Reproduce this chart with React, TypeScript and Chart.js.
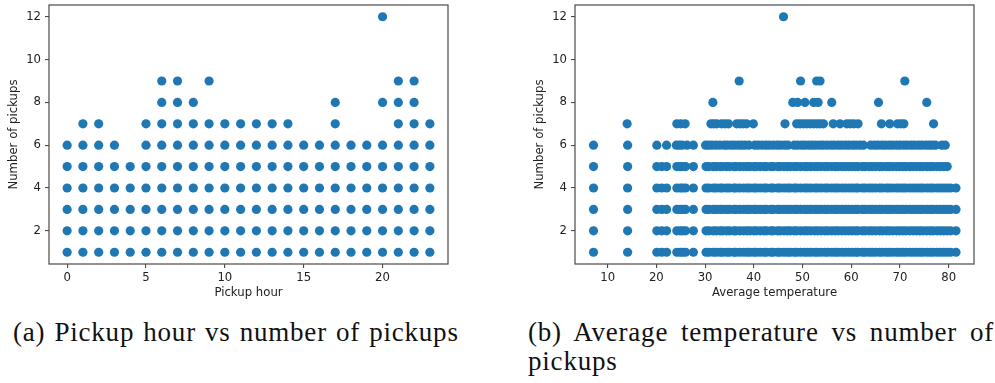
import React, { useEffect, useRef } from 'react';
import { Chart, registerables } from 'chart.js';

Chart.register(...registerables);

// ---- Pickup hour vs number of pickups ----
const hours = [0, 1, 2, 3, 4, 5, 6, 7, 8, 9, 10, 11, 12, 13, 14, 15, 16, 17, 18, 19, 20, 21, 22, 23];
const pickupsByHour: number[][] = [
  [1, 2, 3, 4, 5, 6],
  [1, 2, 3, 4, 5, 6, 7],
  [1, 2, 3, 4, 5, 6, 7],
  [1, 2, 3, 4, 5, 6],
  [1, 2, 3, 4, 5],
  [1, 2, 3, 4, 5, 6, 7],
  [1, 2, 3, 4, 5, 6, 7, 8, 9],
  [1, 2, 3, 4, 5, 6, 7, 8, 9],
  [1, 2, 3, 4, 5, 6, 7, 8],
  [1, 2, 3, 4, 5, 6, 7, 9],
  [1, 2, 3, 4, 5, 6, 7],
  [1, 2, 3, 4, 5, 6, 7],
  [1, 2, 3, 4, 5, 6, 7],
  [1, 2, 3, 4, 5, 6, 7],
  [1, 2, 3, 4, 5, 6, 7],
  [1, 2, 3, 4, 5, 6],
  [1, 2, 3, 4, 5, 6],
  [1, 2, 3, 4, 5, 6, 7, 8],
  [1, 2, 3, 4, 5, 6],
  [1, 2, 3, 4, 5, 6],
  [1, 2, 3, 4, 5, 6, 8, 12],
  [1, 2, 3, 4, 5, 6, 7, 8, 9],
  [1, 2, 3, 4, 5, 6, 7, 8, 9],
  [1, 2, 3, 4, 5, 6, 7],
];
const hourTicks = [0, 5, 10, 15, 20];

// ---- Average temperature vs number of pickups ----
const coldTemps = [7.1, 14.1, 20.1, 21.1, 22.1, 24.2, 24.9, 25.4, 26.0, 27.6];
const mildTemps = [
  30.2, 30.8, 31.7, 32.3, 33.1, 33.6, 34.4, 35.0, 35.9, 36.3, 37.1, 37.9, 38.6, 39.2, 40.0,
  40.5, 41.3, 42.1, 42.6, 43.5, 44.0, 44.9, 45.4, 46.2, 46.9, 47.5, 48.3, 48.8, 49.6, 50.4,
  51.0, 51.7, 52.5, 53.1, 53.8, 54.6, 55.2, 56.0, 56.7, 57.3, 58.1, 58.8, 59.5, 60.2, 60.9,
  61.4, 62.3, 62.9, 63.7, 64.3, 65.0, 65.8, 66.4, 67.2, 67.8, 68.5, 69.3, 69.9, 70.6, 71.2,
  72.0, 72.7, 73.4, 74.1, 74.7, 75.5, 76.2, 76.8, 77.6, 78.3, 79.0, 79.7,
];
const warmestTemps = [80.4, 81.5];
const tempsAtSix = [
  7.1, 14.1, 20.1, 22.1, 24.1, 24.7, 25.3, 26.3, 27.6,
  30.1, 30.7, 31.4, 32.2, 33.0, 33.9, 34.5, 35.3, 36.0, 36.8, 37.5, 38.2, 39.0, 40.2, 40.9,
  41.7, 42.5, 43.2, 44.0, 44.8, 45.5, 46.3, 47.0, 48.3, 49.0, 49.8, 50.5, 51.3, 52.0, 52.7,
  53.5, 54.2, 55.0, 55.8, 56.5, 57.3, 58.0, 58.8, 59.5, 60.3, 61.0, 61.8, 62.5, 64.0, 64.8,
  65.5, 66.3, 67.0, 67.8, 68.5, 69.3, 70.0, 70.8, 71.5, 72.3, 73.0, 73.8, 74.5, 75.3, 76.0,
  76.6, 77.3, 78.6, 79.3,
];
const tempsAtSeven = [
  14.0, 24.2, 25.0, 25.9, 31.2, 31.8, 32.4, 33.4, 34.1, 34.8, 36.5, 37.2, 37.8, 38.5, 39.9,
  46.4, 48.8, 49.5, 50.2, 50.9, 51.6, 52.3, 53.0, 53.6, 54.3, 56.3, 57.7, 59.1, 59.8, 60.5,
  61.4, 66.2, 67.9, 69.5, 70.2, 70.8, 76.9,
];
const tempsAtEight = [31.6, 48.0, 49.0, 50.5, 52.3, 53.2, 56.0, 65.6, 75.5];
const tempsAtNine = [37.0, 49.6, 52.9, 53.6, 71.0];
const tempsAtTwelve = [46.1];
const pickupLevels = [1, 2, 3, 4, 5, 6, 7, 8, 9, 12];
const tempsByLevel: number[][] = [
  [...coldTemps, ...mildTemps, ...warmestTemps],
  [...coldTemps, ...mildTemps, ...warmestTemps],
  [...coldTemps, ...mildTemps, ...warmestTemps],
  [...coldTemps, ...mildTemps, ...warmestTemps],
  [...coldTemps, ...mildTemps],
  tempsAtSix,
  tempsAtSeven,
  tempsAtEight,
  tempsAtNine,
  tempsAtTwelve,
];
const tempTicks = [10, 20, 30, 40, 50, 60, 70, 80];
const pickupTicks = [2, 4, 6, 8, 10, 12];

const DOT = '#1f77b4';
const INK = '#222222';
const SPINE = '#4a4a4a';
const TICK_FONT = { family: '"DejaVu Sans", sans-serif', size: 11.7 };

const framePlugin = {
  id: 'frame',
  afterDraw(chart: any) {
    const { ctx, chartArea } = chart;
    ctx.save();
    ctx.strokeStyle = SPINE;
    ctx.lineWidth = 1.2;
    ctx.strokeRect(chartArea.left, chartArea.top, chartArea.right - chartArea.left, chartArea.bottom - chartArea.top);
    ctx.restore();
  },
};

interface PanelSpec {
  points: { x: number; y: number }[];
  xMin: number;
  xMax: number;
  xTicks: number[];
  xTitle: string;
  yAxisWidth: number;
  yTitlePad: number;
  rightPad: number;
}

function Panel({ spec, width, height }: { spec: PanelSpec; width: number; height: number }) {
  const ref = useRef<HTMLCanvasElement | null>(null);
  useEffect(() => {
    if (!ref.current) return;
    const chart = new Chart(ref.current, {
      type: 'scatter',
      data: {
        datasets: [
          {
            data: spec.points,
            backgroundColor: DOT,
            borderWidth: 0,
            pointRadius: 4.6,
            pointHoverRadius: 4.6,
          },
        ],
      },
      options: {
        responsive: false,
        animation: false,
        devicePixelRatio: 1,
        events: [],
        layout: { padding: { top: 5, right: spec.rightPad, left: 0, bottom: 0 } },
        plugins: { legend: { display: false }, tooltip: { enabled: false }, title: { display: false } },
        scales: {
          x: {
            type: 'linear',
            min: spec.xMin,
            max: spec.xMax,
            border: { display: false },
            grid: { drawOnChartArea: false, drawTicks: true, tickLength: 4, color: SPINE, lineWidth: 1.1 },
            ticks: { color: INK, font: TICK_FONT, padding: 3, maxRotation: 0, callback: (v: any) => String(v) },
            title: { display: true, text: spec.xTitle, color: INK, font: TICK_FONT, padding: { top: 0, bottom: 5 } },
            afterBuildTicks: (scale: any) => {
              scale.ticks = spec.xTicks.map((value) => ({ value }));
            },
            afterFit: (scale: any) => {
              scale.height = 41;
              scale.paddingLeft = 0;
              scale.paddingRight = 0;
            },
          },
          y: {
            type: 'linear',
            min: 0.45,
            max: 12.55,
            border: { display: false },
            grid: { drawOnChartArea: false, drawTicks: true, tickLength: 4, color: SPINE, lineWidth: 1.1 },
            ticks: { color: INK, font: TICK_FONT, padding: 4, callback: (v: any) => String(v) },
            title: {
              display: true,
              text: 'Number of pickups',
              color: INK,
              font: TICK_FONT,
              padding: { top: spec.yTitlePad, bottom: 0 },
            },
            afterBuildTicks: (scale: any) => {
              scale.ticks = pickupTicks.map((value) => ({ value }));
            },
            afterFit: (scale: any) => {
              scale.width = spec.yAxisWidth;
              scale.paddingTop = 0;
              scale.paddingBottom = 0;
            },
          },
        },
      },
      plugins: [framePlugin],
    });
    return () => chart.destroy();
  }, [spec]);
  return <canvas ref={ref} width={width} height={height} style={{ width, height, display: 'block' }} />;
}

const hourSpec: PanelSpec = {
  points: hours.flatMap((h, i) => pickupsByHour[i].map((n) => ({ x: h, y: n }))),
  xMin: -1.15,
  xMax: 24.15,
  xTicks: hourTicks,
  xTitle: 'Pickup hour',
  yAxisWidth: 49,
  yTitlePad: 7,
  rightPad: 12,
};

const tempSpec: PanelSpec = {
  points: pickupLevels.flatMap((n, i) => tempsByLevel[i].map((t) => ({ x: t, y: n }))),
  xMin: 3.3,
  xMax: 85.2,
  xTicks: tempTicks,
  xTitle: 'Average temperature',
  yAxisWidth: 55,
  yTitlePad: 13,
  rightPad: 21,
};

const captionStyle: React.CSSProperties = {
  position: 'absolute',
  fontFamily: '"Liberation Serif", "Times New Roman", serif',
  fontSize: 27,
  lineHeight: '27px',
  color: '#111',
  whiteSpace: 'nowrap',
  letterSpacing: 0.8,
  wordSpacing: 1.5,
};

export default function App() {
  return (
    <div style={{ position: 'absolute', left: 0, top: 0, width: 995, height: 383, background: '#fff', overflow: 'hidden' }}>
      <div style={{ position: 'absolute', left: 0, top: 0 }}>
        <Panel spec={hourSpec} width={460} height={305} />
      </div>
      <div style={{ position: 'absolute', left: 520, top: 0 }}>
        <Panel spec={tempSpec} width={475} height={305} />
      </div>
      <div style={{ ...captionStyle, left: 13, top: 319 }}>(a) Pickup hour vs number of pickups</div>
      <div style={{ ...captionStyle, left: 528, top: 319, width: 466, textAlign: 'justify', textAlignLast: 'justify' }}>
        (b) Average temperature vs number of
      </div>
      <div style={{ ...captionStyle, left: 528, top: 348 }}>pickups</div>
    </div>
  );
}
